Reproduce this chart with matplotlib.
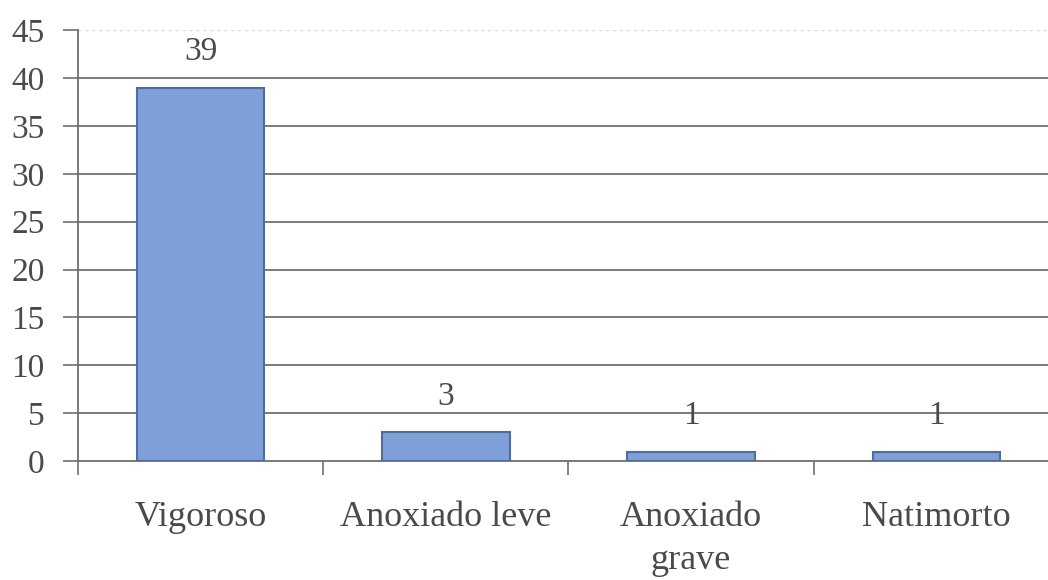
import numpy as np
import matplotlib
matplotlib.use("Agg")
from matplotlib import pyplot as plt

categorias = ["Vigoroso", "Anoxiado leve", "Anoxiado\ngrave", "Natimorto"]
valores = [39, 3, 1, 1]
yticks = [0, 5, 10, 15, 20, 25, 30, 35, 40, 45]

cor_barra = "#7f9fd8"
cor_borda = "#4f6c9c"
cor_texto = "#4a4a4a"
cor_grade = "#6e6e6e"

plt.rcParams['font.family'] = ['Liberation Serif', 'DejaVu Serif']

fig = plt.figure(figsize=(10.48, 5.8), dpi=100)
ax = fig.add_axes([0.0744, 0.205, 0.936, 0.743])

x = np.arange(len(categorias))
bars = ax.bar(x, valores, width=0.52, color=cor_barra, edgecolor=cor_borda,
              linewidth=1.5, zorder=3)

for xi, v in zip(x, valores):
    ax.annotate(str(v), (xi, v), xytext=(0, 15), textcoords="offset points",
                ha="center", va="bottom", fontsize=24, color=cor_texto)

ax.set_ylim(0, 45)
ax.set_xlim(-0.5, len(categorias) - 0.5)
ax.set_yticks(yticks)
ax.set_yticklabels([str(t) for t in yticks], fontsize=24, color=cor_texto)

# gridlines at every 5, faint at the top
for t in yticks[1:-1]:
    ax.axhline(t, color=cor_grade, linewidth=1.3, zorder=1)
ax.axhline(45, color="#d8d8d8", linewidth=1.0, linestyle=(0, (2, 3)), zorder=1)

# category labels centred, tick marks at the boundaries
ax.set_xticks(x)
ax.set_xticklabels(categorias, fontsize=26, color=cor_texto, linespacing=1.4)
ax.tick_params(axis="x", length=0, pad=29)
ax.set_xticks(np.arange(len(categorias) + 1) - 0.5, minor=True)
ax.tick_params(axis="x", which="minor", length=10, width=1.2, color=cor_grade,
               direction="out")
ax.tick_params(axis="y", length=11, width=1.2, color=cor_grade, pad=13)

for s in ["top", "right"]:
    ax.spines[s].set_visible(False)
ax.spines["left"].set_color(cor_grade)
ax.spines["left"].set_linewidth(1.3)
ax.spines["bottom"].set_color(cor_grade)
ax.spines["bottom"].set_linewidth(1.3)

fig.savefig("out.png", dpi=100, facecolor="white")
